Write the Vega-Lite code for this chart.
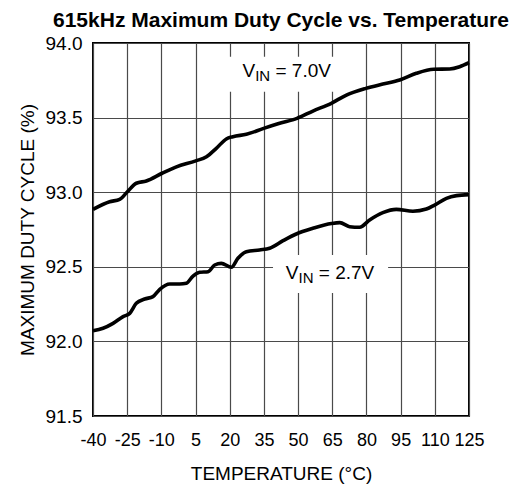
{
  "$schema": "https://vega.github.io/schema/vega-lite/v6.json",
  "width": 376,
  "height": 373,
  "autosize": {"type": "none"},
  "padding": {"left": 93, "top": 43, "right": 47, "bottom": 73},
  "background": "white",
  "title": {
    "text": "615kHz Maximum Duty Cycle vs. Temperature",
    "font": "Liberation Sans",
    "fontSize": 21,
    "fontWeight": "bold",
    "color": "black",
    "anchor": "middle",
    "baseline": "bottom",
    "offset": -18
  },
  "config": {
    "view": {"stroke": "black", "strokeWidth": 2},
    "font": "Liberation Sans",
    "axis": {
      "domain": false,
      "ticks": false,
      "grid": true,
      "gridColor": "#4a4a4a",
      "gridWidth": 1.2,
      "gridOpacity": 1,
      "labelFont": "Liberation Sans",
      "labelFontSize": 19,
      "labelColor": "black",
      "labelOverlap": false,
      "titleFont": "Liberation Sans",
      "titleFontSize": 19,
      "titleFontWeight": "normal",
      "titleColor": "black"
    }
  },
  "datasets": {
    "curves": [
      {"series": "7.0V", "t": -40, "d": 92.885},
      {"series": "7.0V", "t": -32.7, "d": 92.936},
      {"series": "7.0V", "t": -28.3, "d": 92.952},
      {"series": "7.0V", "t": -24.9, "d": 93.003},
      {"series": "7.0V", "t": -21, "d": 93.06},
      {"series": "7.0V", "t": -16.6, "d": 93.075},
      {"series": "7.0V", "t": -9.7, "d": 93.127},
      {"series": "7.0V", "t": -3.4, "d": 93.17},
      {"series": "7.0V", "t": 5.1, "d": 93.21},
      {"series": "7.0V", "t": 9.8, "d": 93.238},
      {"series": "7.0V", "t": 14.1, "d": 93.294},
      {"series": "7.0V", "t": 18.5, "d": 93.357},
      {"series": "7.0V", "t": 21.4, "d": 93.372},
      {"series": "7.0V", "t": 27.3, "d": 93.388},
      {"series": "7.0V", "t": 34.9, "d": 93.428},
      {"series": "7.0V", "t": 41.9, "d": 93.462},
      {"series": "7.0V", "t": 49.5, "d": 93.495},
      {"series": "7.0V", "t": 56.5, "d": 93.544},
      {"series": "7.0V", "t": 64.6, "d": 93.596},
      {"series": "7.0V", "t": 71.2, "d": 93.651},
      {"series": "7.0V", "t": 79.7, "d": 93.696},
      {"series": "7.0V", "t": 87.2, "d": 93.725},
      {"series": "7.0V", "t": 94.6, "d": 93.752},
      {"series": "7.0V", "t": 101.9, "d": 93.797},
      {"series": "7.0V", "t": 109.5, "d": 93.824},
      {"series": "7.0V", "t": 116.5, "d": 93.826},
      {"series": "7.0V", "t": 120.9, "d": 93.841},
      {"series": "7.0V", "t": 125, "d": 93.868},
      {"series": "2.7V", "t": -40, "d": 92.072},
      {"series": "2.7V", "t": -35.6, "d": 92.088},
      {"series": "2.7V", "t": -31.2, "d": 92.121},
      {"series": "2.7V", "t": -26.8, "d": 92.166},
      {"series": "2.7V", "t": -23.9, "d": 92.188},
      {"series": "2.7V", "t": -21, "d": 92.255},
      {"series": "2.7V", "t": -17.3, "d": 92.284},
      {"series": "2.7V", "t": -13.7, "d": 92.3},
      {"series": "2.7V", "t": -10.7, "d": 92.349},
      {"series": "2.7V", "t": -6.3, "d": 92.385},
      {"series": "2.7V", "t": -2, "d": 92.385},
      {"series": "2.7V", "t": 1, "d": 92.39},
      {"series": "2.7V", "t": 3.9, "d": 92.438},
      {"series": "2.7V", "t": 6.8, "d": 92.463},
      {"series": "2.7V", "t": 10.5, "d": 92.467},
      {"series": "2.7V", "t": 13.4, "d": 92.512},
      {"series": "2.7V", "t": 16.3, "d": 92.523},
      {"series": "2.7V", "t": 20.7, "d": 92.497},
      {"series": "2.7V", "t": 23.6, "d": 92.557},
      {"series": "2.7V", "t": 27.3, "d": 92.601},
      {"series": "2.7V", "t": 33.1, "d": 92.613},
      {"series": "2.7V", "t": 37.5, "d": 92.624},
      {"series": "2.7V", "t": 43.4, "d": 92.675},
      {"series": "2.7V", "t": 49.2, "d": 92.72},
      {"series": "2.7V", "t": 56.5, "d": 92.758},
      {"series": "2.7V", "t": 64.6, "d": 92.79},
      {"series": "2.7V", "t": 68.3, "d": 92.796},
      {"series": "2.7V", "t": 72.6, "d": 92.769},
      {"series": "2.7V", "t": 77, "d": 92.765},
      {"series": "2.7V", "t": 81.4, "d": 92.814},
      {"series": "2.7V", "t": 87.2, "d": 92.863},
      {"series": "2.7V", "t": 93.1, "d": 92.885},
      {"series": "2.7V", "t": 100.4, "d": 92.872},
      {"series": "2.7V", "t": 106.3, "d": 92.887},
      {"series": "2.7V", "t": 109.9, "d": 92.914},
      {"series": "2.7V", "t": 115.1, "d": 92.959},
      {"series": "2.7V", "t": 119.5, "d": 92.977},
      {"series": "2.7V", "t": 125, "d": 92.984}
    ],
    "labels": [
      {"v": "V", "sub": "IN", "rest": "= 7.0V", "t": 25.6, "d": 93.774, "t1": 19.1, "t2": 66.5, "d1": 93.908, "d2": 93.674},
      {"v": "V", "sub": "IN", "rest": "= 2.7V", "t": 44.6, "d": 92.416, "t1": 39.0, "t2": 89.5, "d1": 92.579, "d2": 92.324}
    ]
  },
  "encoding": {
    "x": {"field": "t", "type": "quantitative",
          "scale": {"domain": [-40, 125], "nice": false, "zero": false},
          "axis": {"values": [-40, -25, -10, 5, 20, 35, 50, 65, 80, 95, 110, 125], "tickCount": 30, "labelExpr": "toString(datum.value)", "labelOverlap": false, "labelFlush": false, "labelFontSize": 18, "labelPadding": 15, "title": "TEMPERATURE (°C)", "titlePadding": 15}},
    "y": {"field": "d", "type": "quantitative",
          "scale": {"domain": [91.5, 94.0], "nice": false, "zero": false},
          "axis": {"values": [91.5, 92.0, 92.5, 93.0, 93.5, 94.0], "tickCount": 20, "format": ".1f", "labelPadding": 11, "title": "MAXIMUM DUTY CYCLE (%)", "titlePadding": 8}}
  },
  "layer": [
    {
      "data": {"name": "labels"},
      "mark": {"type": "rect", "fill": "white", "stroke": null},
      "encoding": {
        "x": {"field": "t1", "type": "quantitative", "axis": {"values": [-40, -25, -10, 5, 20, 35, 50, 65, 80, 95, 110, 125], "tickCount": 30, "labelOverlap": false, "title": "TEMPERATURE (°C)"}},
        "x2": {"field": "t2"},
        "y": {"field": "d1", "type": "quantitative", "axis": {"title": "MAXIMUM DUTY CYCLE (%)"}},
        "y2": {"field": "d2"}
      }
    },
    {
      "data": {"name": "curves"},
      "mark": {"type": "line", "color": "black", "strokeWidth": 3.6, "interpolate": "monotone"},
      "encoding": {
        "detail": {"field": "series"}
      }
    },
    {
      "data": {"name": "labels"},
      "mark": {"type": "text", "align": "left", "baseline": "alphabetic", "fontSize": 19, "font": "Liberation Sans", "color": "black"},
      "encoding": {
        "text": {"field": "v"}
      }
    },
    {
      "data": {"name": "labels"},
      "mark": {"type": "text", "align": "left", "baseline": "alphabetic", "fontSize": 15, "font": "Liberation Sans", "color": "black", "dx": 12.7, "dy": 4},
      "encoding": {
        "text": {"field": "sub"}
      }
    },
    {
      "data": {"name": "labels"},
      "mark": {"type": "text", "align": "left", "baseline": "alphabetic", "fontSize": 19, "font": "Liberation Sans", "color": "black", "dx": 33},
      "encoding": {
        "text": {"field": "rest"}
      }
    }
  ]
}
